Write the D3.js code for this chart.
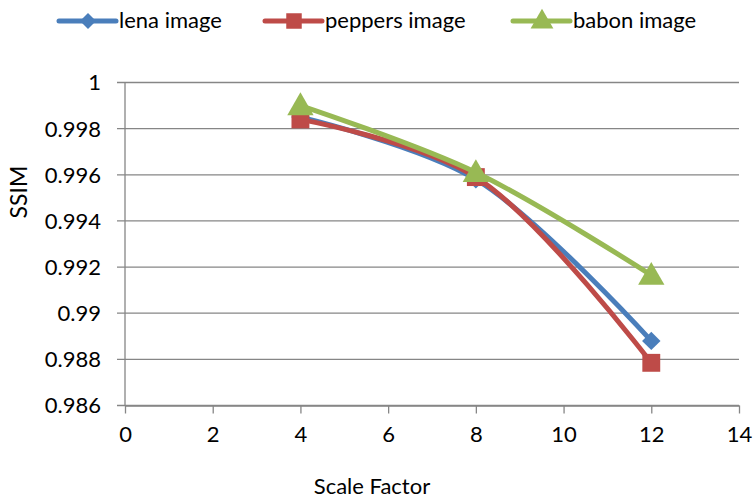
<!DOCTYPE html>
<html>
<head>
<meta charset="utf-8">
<script src="https://cdnjs.cloudflare.com/ajax/libs/d3/7.8.5/d3.min.js"></script>
<style>
  body { margin: 0; background: #fff; }
  svg { display: block; font-family: Lato, "Open Sans", sans-serif; }
</style>
</head>
<body>
<div id="viz"></div>
<script>
// data
let scaleFactors = [4, 8, 12]
let lena = [0.9985, 0.9958, 0.9888]
let peppers = [0.9984, 0.9959, 0.98785]
let babon = [0.9990, 0.9961, 0.99165]
let seriesNames = ["lena image", "peppers image", "babon image"]
let xTicks = [0, 2, 4, 6, 8, 10, 12, 14]
let yTicks = [0.986, 0.988, 0.99, 0.992, 0.994, 0.996, 0.998, 1]
let yTickLabels = ["0.986", "0.988", "0.99", "0.992", "0.994", "0.996", "0.998", "1"]

let svgWidth = 753
let svgHeight = 500

let margin = { left: 125, right: 14, top: 82.5, bottom: 94.5 }
let width = svgWidth - margin.left - margin.right
let height = svgHeight - margin.top - margin.bottom

const svg = d3.select('#viz')
    .append('svg')
    .attr('width', svgWidth)
    .attr('height', svgHeight)

let xScale = d3.scaleLinear().domain([0, 14]).range([margin.left, margin.left + width])
let yScale = d3.scaleLinear().domain([0.986, 1]).range([margin.top + height, margin.top])

const gridColor = "#868686"
const colors = ["#4A7EBB", "#BE4B48", "#98B954"]
const shapes = [d3.symbolSquare, d3.symbolSquare, d3.symbolTriangle]
const rotations = [45, 0, 0]
const markerSize = [170, 320, 300]

// horizontal gridlines
svg.append('g')
    .selectAll('line')
    .data(yTicks)
    .join('line')
    .attr('stroke', gridColor)
    .attr('stroke-width', 1.3)
    .attr('x1', xScale(0) - 8)
    .attr('x2', xScale(14))
    .attr('y1', d => yScale(d))
    .attr('y2', d => yScale(d))

// y axis line
svg.append('line')
    .attr('stroke', gridColor)
    .attr('stroke-width', 1.3)
    .attr('x1', xScale(0)).attr('x2', xScale(0))
    .attr('y1', yScale(1)).attr('y2', yScale(0.986))

// x axis
let xAxis = d3.axisBottom(xScale).tickValues(xTicks).tickSize(8).tickSizeOuter(0).tickPadding(8)
let gx = svg.append('g')
    .attr('transform', `translate(0,${yScale(0.986)})`)
    .call(xAxis)
gx.select('.domain').attr('stroke', gridColor).attr('stroke-width', 1.3)
gx.selectAll('.tick line').attr('stroke', gridColor).attr('stroke-width', 1.3)
gx.selectAll('.tick text')
    .attr('fill', '#000')
    .style('font-size', '22px')
    .style('font-family', 'Lato, sans-serif')
    .attr('dy', '0.95em')

// y tick labels
svg.append('g')
    .selectAll('text')
    .data(yTicks)
    .join('text')
    .attr('x', 101)
    .attr('y', d => yScale(d))
    .attr('dy', '0.36em')
    .attr('text-anchor', 'end')
    .style('font-size', '22px')
    .text((d, i) => yTickLabels[i])

// axis titles
svg.append('text')
    .attr('transform', 'translate(27,192) rotate(-90)')
    .attr('text-anchor', 'middle')
    .style('font-size', '23px')
    .text('SSIM')

svg.append('text')
    .attr('x', 372)
    .attr('y', 494)
    .attr('text-anchor', 'middle')
    .style('font-size', '22px')
    .text('Scale Factor')

// series
let allSeries = [lena, peppers, babon]
let line = d3.line()
    .x((d, i) => xScale(scaleFactors[i]))
    .y(d => yScale(d))
    .curve(d3.curveCatmullRom.alpha(0.5))

allSeries.forEach(function(values, s) {
    let g = svg.append('g')
    g.append('path')
        .datum(values)
        .attr('fill', 'none')
        .attr('stroke', colors[s])
        .attr('stroke-width', 5)
        .attr('stroke-linecap', 'round')
        .attr('d', line)
    g.selectAll('path.marker')
        .data(values)
        .join('path')
        .attr('class', 'marker')
        .attr('fill', colors[s])
        .attr('transform', (d, i) => `translate(${xScale(scaleFactors[i])},${yScale(d) + (s == 2 ? 2 : 0)}) rotate(${rotations[s]})`)
        .attr('d', d3.symbol().type(shapes[s]).size(markerSize[s]))
})

// legend
let legendX = [59, 265, 513]
let legend = svg.append('g')
    .selectAll('g')
    .data(seriesNames)
    .join('g')
    .attr('transform', (d, i) => `translate(${legendX[i]},21)`)
legend.append('line')
    .attr('x1', 0).attr('x2', 57)
    .attr('y1', 0).attr('y2', 0)
    .attr('stroke', (d, i) => colors[i])
    .attr('stroke-width', 5)
    .attr('stroke-linecap', 'round')
legend.append('path')
    .attr('transform', (d, i) => `translate(29,${i == 2 ? 1 : 0}) rotate(${rotations[i]})`)
    .attr('fill', (d, i) => colors[i])
    .attr('d', (d, i) => d3.symbol().type(shapes[i]).size(markerSize[i] * 0.75)())
legend.append('text')
    .attr('x', 60)
    .attr('y', 7)
    .style('font-size', '22px')
    .text(d => d)
</script>
</body>
</html>
